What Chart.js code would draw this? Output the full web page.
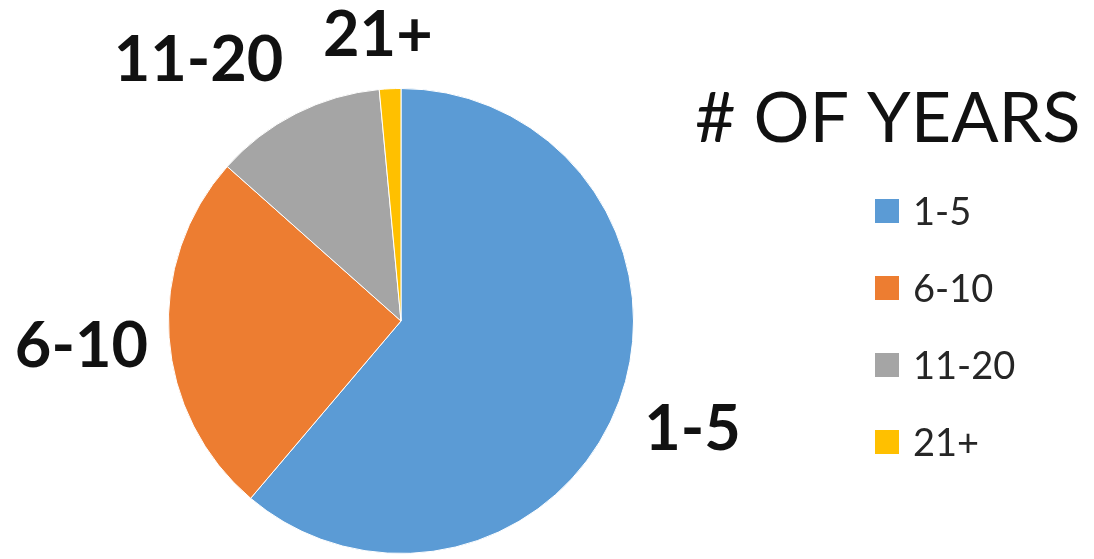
<!DOCTYPE html>
<html>
<head>
<meta charset="utf-8">
<title># OF YEARS</title>
<script src="https://cdn.jsdelivr.net/npm/chart.js@4.4.1/dist/chart.umd.min.js"></script>
<style>
  html, body { margin: 0; padding: 0; background: #ffffff; }
  #wrap { position: relative; width: 1094px; height: 559px; }
</style>
</head>
<body>
<div id="wrap"><canvas id="pie"></canvas></div>
<script>
// Years of experience, number of respondents per bracket
const categories = ['1-5', '6-10', '11-20', '21+'];
const respondents = [41, 17, 8, 1];
const sliceColors = ['#5B9BD5', '#ED7D31', '#A5A5A5', '#FFC000'];
const legendTitle = '# OF YEARS';

// Category names printed outside the pie, placed along each slice's mid angle
const outsideLabels = {
    id: 'outsideLabels',
    afterDatasetsDraw(chart, args, opts) {
        const ctx = chart.ctx;
        const arcs = chart.getDatasetMeta(0).data;
        ctx.save();
        ctx.font = opts.font;
        ctx.fillStyle = opts.color;
        ctx.textAlign = 'center';
        ctx.textBaseline = 'alphabetic';
        arcs.forEach((arc, i) => {
            const mid = (arc.startAngle + arc.endAngle) / 2 + opts.angleShift[i] * Math.PI / 180;
            const dist = arc.outerRadius * opts.distance[i];
            const x = arc.x + Math.cos(mid) * dist;
            const y = arc.y + Math.sin(mid) * dist;
            const text = chart.data.labels[i];
            const m = ctx.measureText(text);
            ctx.fillText(text, x, y + (m.actualBoundingBoxAscent - m.actualBoundingBoxDescent) / 2);
        });
        ctx.restore();
    }
};

// Legend on the right: big title then one swatch per category
const sideLegend = {
    id: 'sideLegend',
    afterDraw(chart, args, opts) {
        const ctx = chart.ctx;
        const colors = chart.data.datasets[0].backgroundColor;
        ctx.save();
        ctx.textAlign = 'left';
        ctx.textBaseline = 'alphabetic';
        ctx.font = opts.titleFont;
        ctx.fillStyle = opts.titleColor;
        ctx.fillText(opts.title, opts.titleX, opts.titleY);

        ctx.font = opts.itemFont;
        chart.data.labels.forEach((label, i) => {
            const cy = opts.firstRowY + i * opts.rowGap;
            ctx.fillStyle = colors[i];
            ctx.fillRect(opts.boxX, cy - opts.boxSize / 2, opts.boxSize, opts.boxSize);
            ctx.fillStyle = opts.itemColor;
            const m = ctx.measureText(label);
            ctx.fillText(label, opts.textX, cy + m.actualBoundingBoxAscent / 2);
        });
        ctx.restore();
    }
};

const ctx = document.getElementById('pie').getContext('2d');
new Chart(ctx, {
    type: 'pie',
    data: {
        labels: categories,
        datasets: [{
            data: respondents,
            backgroundColor: sliceColors,
            borderColor: '#ffffff',
            borderWidth: 1
        }]
    },
    options: {
        responsive: true,
        maintainAspectRatio: false,
        animation: false,
        layout: {
            padding: { left: 168, right: 460, top: 88, bottom: 5 }
        },
        plugins: {
            legend: { display: false },
            tooltip: { enabled: false },
            outsideLabels: {
                font: 'bold 63px Lato, "Open Sans", sans-serif',
                color: '#111111',
                angleShift: [0, 0, -10.7, -1.9],
                distance: [1.336, 1.378, 1.428, 1.243]
            },
            sideLegend: {
                title: legendTitle,
                titleFont: '70px Lato, "Open Sans", sans-serif',
                titleColor: '#111111',
                titleX: 695,
                titleY: 142,
                itemFont: '38px Lato, "Open Sans", sans-serif',
                itemColor: '#262626',
                boxX: 875,
                boxSize: 24,
                textX: 913,
                firstRowY: 211,
                rowGap: 77
            }
        }
    },
    plugins: [outsideLabels, sideLegend]
});
</script>
</body>
</html>
